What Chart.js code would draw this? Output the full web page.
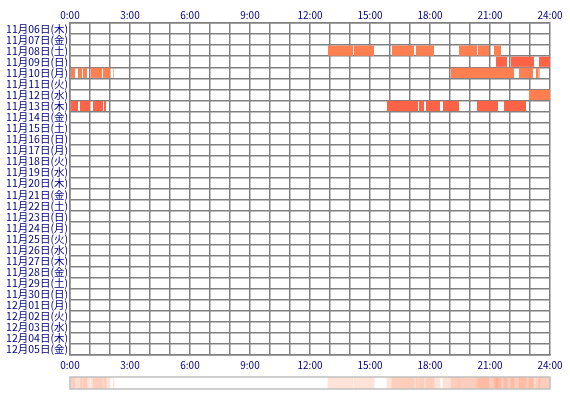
<!DOCTYPE html>
<html><head><meta charset="utf-8">
<script src="https://cdn.jsdelivr.net/npm/chart.js@4"></script>
<style>body{margin:0;background:#fff}#w{position:relative;width:570px;height:400px}
#c1{position:absolute;left:0;top:0}#c2{position:absolute;left:0;top:374px}</style>
</head><body><div id="w"><canvas id="c1" width="570" height="372"></canvas><canvas id="c2" width="570" height="26"></canvas></div>
<script>
const days = ['11月06日(木)','11月07日(金)','11月08日(土)','11月09日(日)','11月10日(月)','11月11日(火)','11月12日(水)','11月13日(木)','11月14日(金)','11月15日(土)','11月16日(日)','11月17日(月)','11月18日(火)','11月19日(水)','11月20日(木)','11月21日(金)','11月22日(土)','11月23日(日)','11月24日(月)','11月25日(火)','11月26日(水)','11月27日(木)','11月28日(金)','11月29日(土)','11月30日(日)','12月01日(月)','12月02日(火)','12月03日(水)','12月04日(木)','12月05日(金)'];
const hourTicks = ['0:00','3:00','6:00','9:00','12:00','15:00','18:00','21:00','24:00'];
const segDay  = [2,2,2,2,2,2,2, 3,3,3, 4,4,4,4,4,4,4,4,4,4, 6, 7,7,7,7,7,7,7,7,7,7];
const segStart= [12.9,14.2,16.1,17.3,19.45,20.4,21.2, 21.3,22.05,23.45, 0.05,0.4,0.65,1.05,1.65,2.17,19.05,22.45,23.3,23.42, 22.95, 0.05,0.5,1.15,1.7,15.85,17.45,17.8,18.65,20.35,21.7];
const segEnd  = [14.15,15.2,17.2,18.2,20.35,20.95,21.55, 21.85,23.2,24, 0.25,0.6,0.85,1.6,2.0,2.2,22.2,23.15,23.4,23.48, 24, 0.4,1.0,1.65,1.8,17.4,17.7,18.5,19.45,21.4,22.8];
const dayColor = {2:'#FF7F50',3:'#FF6347',4:'#FF7F50',6:'#FF7F50',7:'#FF6347'};

const navy='#000080', grid='#808080';
const font={family:'"Noto Sans CJK JP", sans-serif',size:10.5};
const data1 = segDay.map((d,i)=>({y:days[d],x:[segStart[i],segEnd[i]]}));
const tickCb = v => (v%3===0 ? hourTicks[v/3] : '');
new Chart(document.getElementById('c1'),{
  type:'bar',
  data:{labels:days,datasets:[{data:data1,grouped:false,categoryPercentage:1,barPercentage:0.92,
    backgroundColor:ctx=>dayColor[segDay[ctx.dataIndex]]}]},
  options:{responsive:false,animation:false,indexAxis:'y',devicePixelRatio:1,
    layout:{padding:{left:0,right:20,top:0,bottom:0}},
    plugins:{legend:{display:false},tooltip:{enabled:false}},
    scales:{
      y:{ticks:{color:navy,font,padding:2,autoSkip:false},grid:{color:grid,lineWidth:1.5,drawTicks:false},border:{color:grid,width:1.5},
         afterFit:s=>{s.width=70;}},
      x:{position:'top',min:0,max:24,ticks:{stepSize:1,autoSkip:false,maxRotation:0,color:navy,font:{...font,size:10},callback:tickCb,padding:2},
         grid:{color:grid,lineWidth:1.5,drawTicks:false},border:{color:grid,width:1.5},afterFit:s=>{s.height=23;}},
      x2:{position:'bottom',axis:'x',min:0,max:24,ticks:{stepSize:1,autoSkip:false,maxRotation:0,color:navy,font:{...font,size:10},callback:tickCb,padding:4},
         grid:{display:false,drawTicks:false},border:{color:grid,width:1.5},afterFit:s=>{s.height=17;}}
    }}
});

const data2 = segDay.map((d,i)=>({y:'s',x:[segStart[i],segEnd[i]]}));
new Chart(document.getElementById('c2'),{
  type:'bar',
  data:{labels:['s'],datasets:[{data:data2,grouped:false,categoryPercentage:1,barPercentage:1,backgroundColor:'rgba(255,127,80,0.22)'}]},
  options:{responsive:false,animation:false,indexAxis:'y',devicePixelRatio:1,
    layout:{padding:{left:70,right:20,top:3,bottom:11}},
    plugins:{legend:{display:false},tooltip:{enabled:false}},
    scales:{y:{display:false},x:{display:false,min:0,max:24}}},
  plugins:[{id:'frame',afterDraw(ch){const a=ch.chartArea,g=ch.ctx;g.save();g.strokeStyle='#c0c0c0';g.lineWidth=1.5;g.strokeRect(a.left,a.top,a.right-a.left,a.bottom-a.top);g.restore();}}]
});
</script></body></html>
